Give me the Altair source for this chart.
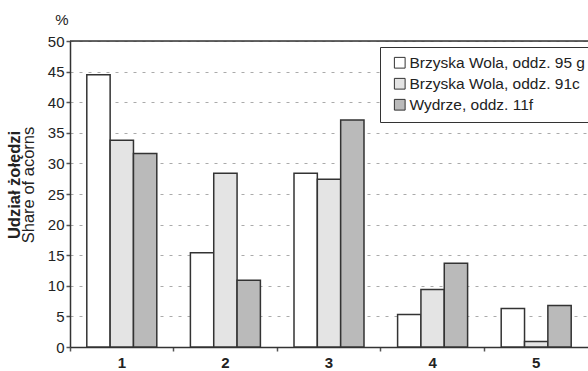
import altair as alt
import pandas as pd

categories = ["1", "2", "3", "4", "5"]
series = ["Brzyska Wola, oddz. 95 g", "Brzyska Wola, oddz. 91c", "Wydrze, oddz. 11f"]
s1 = [44.5, 15.4, 28.4, 5.3, 6.3]
s2 = [33.8, 28.4, 27.4, 9.4, 0.9]
s3 = [31.6, 10.9, 37.1, 13.7, 6.8]
colors = ["#ffffff", "#e4e4e4", "#bababa"]
y_ticks = [0, 5, 10, 15, 20, 25, 30, 35, 40, 45, 50]

rows = []
for name, vals in zip(series, [s1, s2, s3]):
    for c, v in zip(categories, vals):
        rows.append({"cat": c, "series": name, "value": v})
df = pd.DataFrame(rows)

FONT = "Liberation Sans"

yscale = alt.Scale(domain=[0, 50], nice=False)

bars = alt.Chart(df).mark_bar(stroke="#333333", strokeWidth=1.5).encode(
    x=alt.X("cat:N", sort=categories,
            scale=alt.Scale(paddingInner=0, paddingOuter=0),
            axis=alt.Axis(title=None, labelAngle=0, bandPosition=0,
                          labelFontWeight="bold", grid=False)),
    xOffset=alt.XOffset("series:N", sort=series,
                        scale=alt.Scale(paddingOuter=0.72, paddingInner=0)),
    y=alt.Y("value:Q", scale=yscale,
            axis=alt.Axis(title=None, values=y_ticks, grid=True, labelOverlap=False)),
    color=alt.Color("series:N", sort=series,
                    scale=alt.Scale(domain=series, range=colors),
                    legend=alt.Legend(title=None, orient="none", legendX=310, legendY=6,
                                      symbolType="square", symbolSize=115,
                                      symbolStrokeColor="#333333", symbolStrokeWidth=1,
                                      labelFontSize=15.5, labelFont=FONT, labelColor="#222222",
                                      labelOffset=2, rowPadding=4, padding=8,
                                      symbolOffset=4, strokeColor="#333333",
                                      fillColor="#ffffff", labelLimit=400)),
)

top_border = alt.Chart(pd.DataFrame({"v": [50]})).mark_rule(
    color="#333333", strokeWidth=1.5).encode(
    y=alt.Y("v:Q", scale=yscale, axis=alt.Axis(title=None, values=y_ticks, grid=True, labelOverlap=False)))

t1 = alt.Chart(pd.DataFrame({"t": ["Udział żołędzi"]})).mark_text(
    angle=270, fontWeight="bold", fontSize=16.5, font=FONT, color="#222222",
    align="center", baseline="middle").encode(
    text="t:N", x=alt.value(-55), y=alt.value(144))
t2 = alt.Chart(pd.DataFrame({"t": ["Share of acorns"]})).mark_text(
    angle=270, fontSize=16.5, font=FONT, color="#222222",
    align="center", baseline="middle").encode(
    text="t:N", x=alt.value(-41.5), y=alt.value(144))
t3 = alt.Chart(pd.DataFrame({"t": ["%"]})).mark_text(
    fontSize=15, font=FONT, color="#222222",
    align="center", baseline="middle").encode(
    text="t:N", x=alt.value(-8), y=alt.value(-21))

chart = alt.layer(bars, top_border, t1, t2, t3).properties(
    width=518, height=306,
    padding={"left": 70, "top": 41, "right": 0, "bottom": 24},
    autosize=alt.AutoSizeParams(type="none"),
).configure_view(stroke=None).configure(background="#ffffff").configure_axis(
    labelFont=FONT, labelFontSize=15, labelColor="#222222",
    tickSize=4, tickColor="#555555", tickWidth=1.5,
    domainColor="#333333", domainWidth=1.5,
).configure_axisY(
    labelPadding=2, gridColor="#aaaaaa", gridDash=[3, 6], gridWidth=1,
).configure_axisX(
    labelPadding=4,
)

chart.save("out.html", embed_options={"renderer": "svg", "actions": False})
